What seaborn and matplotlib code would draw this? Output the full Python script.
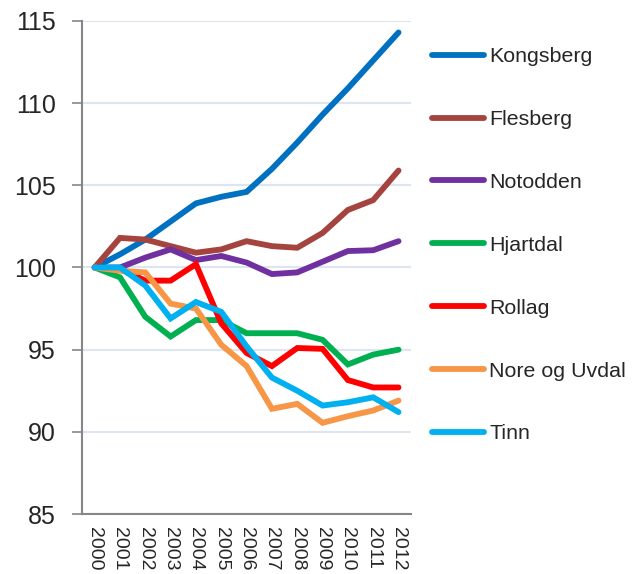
import matplotlib
matplotlib.use("Agg")
import matplotlib.pyplot as plt
from matplotlib.ticker import FixedLocator
import seaborn as sns
import pandas as pd

# --- Data (index, 2000 = 100) ---
years = ["2000", "2001", "2002", "2003", "2004", "2005", "2006",
         "2007", "2008", "2009", "2010", "2011", "2012"]

kongsberg = [100, 100.8, 101.7, 102.8, 103.9, 104.3, 104.6,
             106.0, 107.6, 109.3, 110.9, 112.6, 114.3]
flesberg = [100, 101.8, 101.7, 101.3, 100.9, 101.1, 101.6,
            101.3, 101.2, 102.1, 103.5, 104.1, 105.9]
notodden = [100, 100.0, 100.6, 101.1, 100.45, 100.7, 100.3,
            99.6, 99.7, 100.35, 101.0, 101.05, 101.6]
hjartdal = [100, 99.4, 97.0, 95.8, 96.8, 96.8, 96.0,
            96.0, 96.0, 95.6, 94.1, 94.7, 95.0]
rollag = [100, 99.9, 99.2, 99.2, 100.2, 96.6, 94.8,
          94.0, 95.1, 95.05, 93.15, 92.7, 92.7]
nore_og_uvdal = [100, 99.8, 99.7, 97.8, 97.5, 95.3, 94.0,
                 91.4, 91.7, 90.55, 90.95, 91.3, 91.9]
tinn = [100, 100.0, 98.9, 96.9, 97.9, 97.3, 95.2,
        93.3, 92.5, 91.6, 91.8, 92.1, 91.2]

series = {
    "Kongsberg": kongsberg,
    "Flesberg": flesberg,
    "Notodden": notodden,
    "Hjartdal": hjartdal,
    "Rollag": rollag,
    "Nore og Uvdal": nore_og_uvdal,
    "Tinn": tinn,
}

colors = {
    "Kongsberg": "#0070C0",
    "Flesberg": "#A5433F",
    "Notodden": "#7030A0",
    "Hjartdal": "#00B050",
    "Rollag": "#FF0000",
    "Nore og Uvdal": "#F79646",
    "Tinn": "#00B0F0",
}


def main():
    rows = []
    for name, vals in series.items():
        for i, (yr, v) in enumerate(zip(years, vals)):
            rows.append({"pos": i, "year": yr, "kommune": name, "index": v})
    df = pd.DataFrame(rows)

    sns.set_style("white")
    plt.rcParams["font.family"] = ["Liberation Sans", "DejaVu Sans"]

    fig = plt.figure(figsize=(6.38, 5.74), dpi=100)
    ax = fig.add_axes([0.1285, 0.1045, 0.516, 0.859])

    sns.lineplot(data=df, x="pos", y="index", hue="kommune",
                 hue_order=list(series.keys()), palette=colors,
                 linewidth=4.2, ax=ax, solid_capstyle="round",
                 solid_joinstyle="miter")

    # axes styling
    ax.set_xlim(-0.5, len(years) - 0.5)
    ax.set_ylim(85, 115)
    ax.set_yticks(range(85, 116, 5))
    ax.yaxis.grid(True, color="#DCE5F1", linewidth=1.5)
    ax.set_axisbelow(True)
    ax.set_xlabel("")
    ax.set_ylabel("")

    ax.set_xticks(range(len(years)))
    ax.set_xticklabels(years, rotation=-90, fontsize=14, va="top")
    ax.xaxis.set_minor_locator(FixedLocator([i - 0.5 for i in range(len(years) + 1)]))
    ax.tick_params(axis="x", which="major", length=0, pad=9)
    ax.tick_params(axis="x", which="minor", length=5, width=1.2, color="#868686")
    ax.tick_params(axis="y", length=7, width=1.2, color="#868686",
                   labelsize=18, pad=12, left=True)

    for side in ["top", "right"]:
        ax.spines[side].set_visible(False)
    for side in ["left", "bottom"]:
        ax.spines[side].set_color("#868686")
        ax.spines[side].set_linewidth(1.5)

    # legend on the right
    ax.legend_.remove()
    handles, labels = ax.get_legend_handles_labels()
    fig.legend(handles, labels, loc="center left",
               bbox_to_anchor=(0.677, 0.5726), frameon=False,
               fontsize=15.4, handlelength=2.45, handletextpad=0.23,
               labelspacing=2.05, borderpad=0, borderaxespad=0)

    fig.savefig("out.png", dpi=100)
    plt.close(fig)


if __name__ == "__main__":
    main()
